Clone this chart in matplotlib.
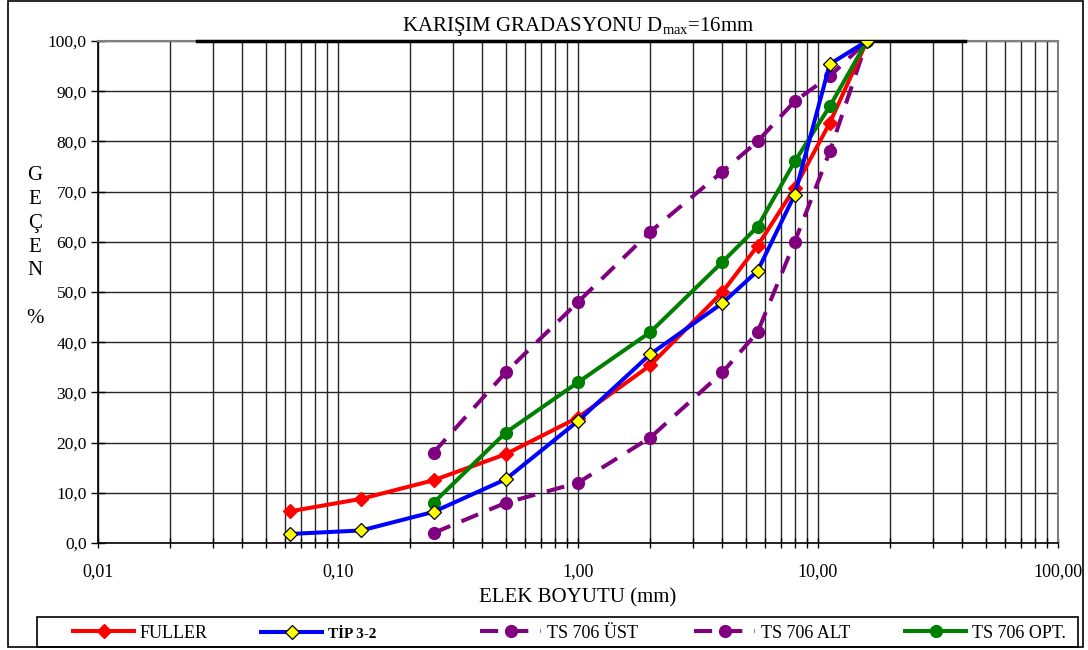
import matplotlib
matplotlib.use("Agg")
import matplotlib.pyplot as plt
from matplotlib.patches import Rectangle
from matplotlib.ticker import FixedLocator, LogLocator, NullFormatter

plt.rcParams["font.family"] = ["Liberation Serif", "DejaVu Serif"]
plt.rcParams["mathtext.fontset"] = "custom"
plt.rcParams["mathtext.rm"] = "Liberation Serif"

# sieve sizes (mm) and passing percentages
sieve_all = [0.063, 0.125, 0.25, 0.5, 1.0, 2.0, 4.0, 5.6, 8.0, 11.2, 16.0]
sieve_ts = [0.25, 0.5, 1.0, 2.0, 4.0, 5.6, 8.0, 11.2, 16.0]

fuller = [6.3, 8.8, 12.5, 17.7, 25.0, 35.4, 50.0, 59.2, 70.7, 83.7, 100.0]
tip_3_2 = [1.8, 2.5, 6.2, 12.7, 24.3, 37.6, 47.8, 54.2, 69.4, 95.4, 100.0]
ts706_ust = [18.0, 34.0, 48.0, 62.0, 74.0, 80.0, 88.0, 93.0, 100.0]
ts706_alt = [2.0, 8.0, 12.0, 21.0, 34.0, 42.0, 60.0, 78.0, 100.0]
ts706_opt = [8.0, 22.0, 32.0, 42.0, 56.0, 63.0, 76.0, 87.0, 100.0]

x_ticks = [0.01, 0.1, 1.0, 10.0, 100.0]
x_tick_labels = ["0,01", "0,10", "1,00", "10,00", "100,00"]
y_ticks = list(range(0, 101, 10))
y_tick_labels = [f"{v},0" for v in y_ticks]

W, H = 1088, 650
fig = plt.figure(figsize=(W / 100, H / 100), dpi=100)
ax = fig.add_axes([98 / W, 1 - 543 / H, (1058 - 98) / W, (543 - 41) / H])

purple = "#800080"
dash = (0, (4.5, 3))
lw = 2.9

ax.plot(sieve_all, fuller, color="red", lw=lw, marker="D", ms=7.5,
        mfc="red", mec="red", label="FULLER", zorder=5)
ax.plot(sieve_all, tip_3_2, color="blue", lw=lw, marker="D", ms=7.5,
        mfc="yellow", mec="black", mew=0.9, label="TİP 3-2", zorder=6)
ax.plot(sieve_ts, ts706_ust, color=purple, lw=lw, ls=dash, marker="o",
        ms=8.5, mfc=purple, mec=purple, label="TS 706 ÜST", zorder=4)
ax.plot(sieve_ts, ts706_alt, color=purple, lw=lw, ls=dash, marker="o",
        ms=8.5, mfc=purple, mec=purple, label="TS 706 ALT", zorder=4)
ax.plot(sieve_ts, ts706_opt, color="green", lw=lw, marker="o", ms=8.5,
        mfc="green", mec="green", label="TS 706 OPT.", zorder=5)

ax.set_xscale("log")
ax.set_xlim(0.01, 100)
ax.set_ylim(0, 100)
ax.xaxis.set_major_locator(FixedLocator(x_ticks))
ax.set_xticklabels(x_tick_labels, fontsize=13)
ax.xaxis.set_minor_locator(LogLocator(base=10, subs=range(2, 10)))
ax.xaxis.set_minor_formatter(NullFormatter())
ax.set_yticks(y_ticks)
ax.set_yticklabels(y_tick_labels, fontsize=12.5)
ax.tick_params(axis="x", which="both", direction="inout", length=7,
               pad=11, width=1)
ax.tick_params(axis="y", direction="inout", length=10, pad=3, width=1)

ax.grid(True, which="major", axis="both", color="#262626", lw=1.0)
ax.grid(True, which="minor", axis="x", color="#262626", lw=1.0)
ax.set_axisbelow(True)
for side in ["top", "right"]:
    ax.spines[side].set_color("#808080")
    ax.spines[side].set_linewidth(1.5)
for side in ["left", "bottom"]:
    ax.spines[side].set_color("black")
    ax.spines[side].set_linewidth(1.2)
ax.axhline(100, xmin=0.103, xmax=0.903, color="black", lw=2.5,
           zorder=3, clip_on=False)

ax.set_title(r"KARIŞIM GRADASYONU D$_{\mathrm{max}}$=16mm", fontsize=15,
             pad=7)
ax.set_xlabel("ELEK BOYUTU (mm)", fontsize=15, labelpad=6)
fig.text(35 / W, 1 - 247 / H, "G\nE\nÇ\nE\nN\n\n%", fontsize=15,
         ha="center", va="center", linespacing=1.35)

# legend row at the bottom: one entry per column start, shared frame
handles, labels = ax.get_legend_handles_labels()
entry_x = [73, 261, 480, 694, 905]
for handle, label, x0 in zip(handles, labels, entry_x):
    leg = fig.legend([handle], [label], loc="center left",
                     bbox_to_anchor=(x0 / W, 1 - 633 / H), frameon=False,
                     fontsize=13, handlelength=3.4, handletextpad=0.3,
                     borderpad=0, borderaxespad=0)
    if label == "TİP 3-2":
        leg.get_texts()[0].set_fontweight("bold")
        leg.get_texts()[0].set_fontsize(11)
fig.patches.append(Rectangle((37 / W, 1 - 647 / H), (1078 - 37) / W,
                             30 / H, transform=fig.transFigure, fill=False,
                             edgecolor="black", lw=1.2))

# outer chart frame
fig.patches.append(Rectangle((8 / W, 3 / H), (1083 - 8) / W, (649 - 3) / H,
                             transform=fig.transFigure, fill=False,
                             edgecolor="black", lw=1.2))

fig.savefig("out.png", dpi=100)
